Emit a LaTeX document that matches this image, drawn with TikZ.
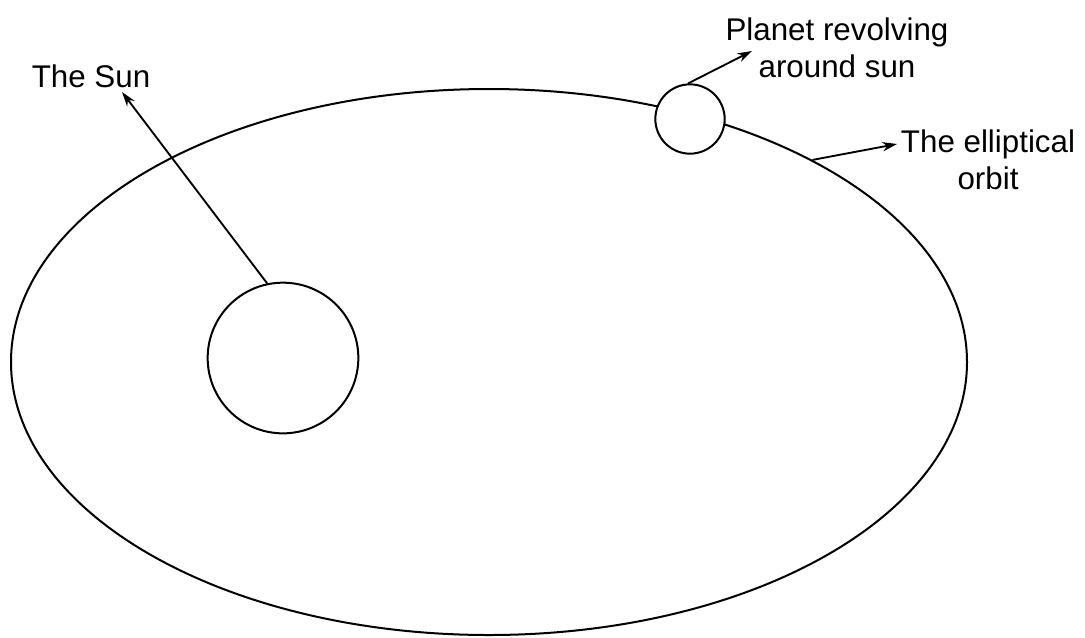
\documentclass[tikz,border=0pt]{standalone}
\usepackage{fontspec}
\setmainfont{Liberation Sans}
\usepackage{tikz}
\usetikzlibrary{arrows.meta,positioning,shapes.geometric}
\tikzset{
  orb/.style={draw,ellipse,line width=1.5pt,inner sep=0pt,
              minimum width=717pt,minimum height=409.5pt},
  body/.style={draw,circle,line width=1.5pt,inner sep=0pt,fill=white},
  lbl/.style={font=\fontsize{23.5}{28}\selectfont,align=center,inner sep=1pt},
  ptr/.style={-{Stealth[length=11pt,width=7pt]},line width=1.4pt},
}
\begin{document}
\begin{tikzpicture}[x=0.75pt,y=-0.75pt]
  \useasboundingbox (0,0) rectangle (1085,637);

  % orbit, sun and planet
  \node[orb] (orbit) at (489,362) {};
  \node[body,minimum size=113pt] (sun) at (283,358) {};
  \node[body,minimum size=52pt] (planet) at (690,119) {};

  % labels
  \node[lbl] (sunlbl) at (91,76) {The Sun};
  \node[lbl] (planetlbl) at (837,48) {Planet revolving\\around sun};
  \node[lbl] (orbitlbl) at (988,160) {The elliptical\\orbit};

  \coordinate (suntip) at (122,92);
  \coordinate (planettip) at (752,51);
  \coordinate (orbittip) at (897,144);

  \draw[ptr] (sun.102) -- (suntip);
  \draw[ptr] (planet.93) -- (planettip);
  \draw[ptr] (orbit.32) -- (orbittip);
\end{tikzpicture}
\end{document}
